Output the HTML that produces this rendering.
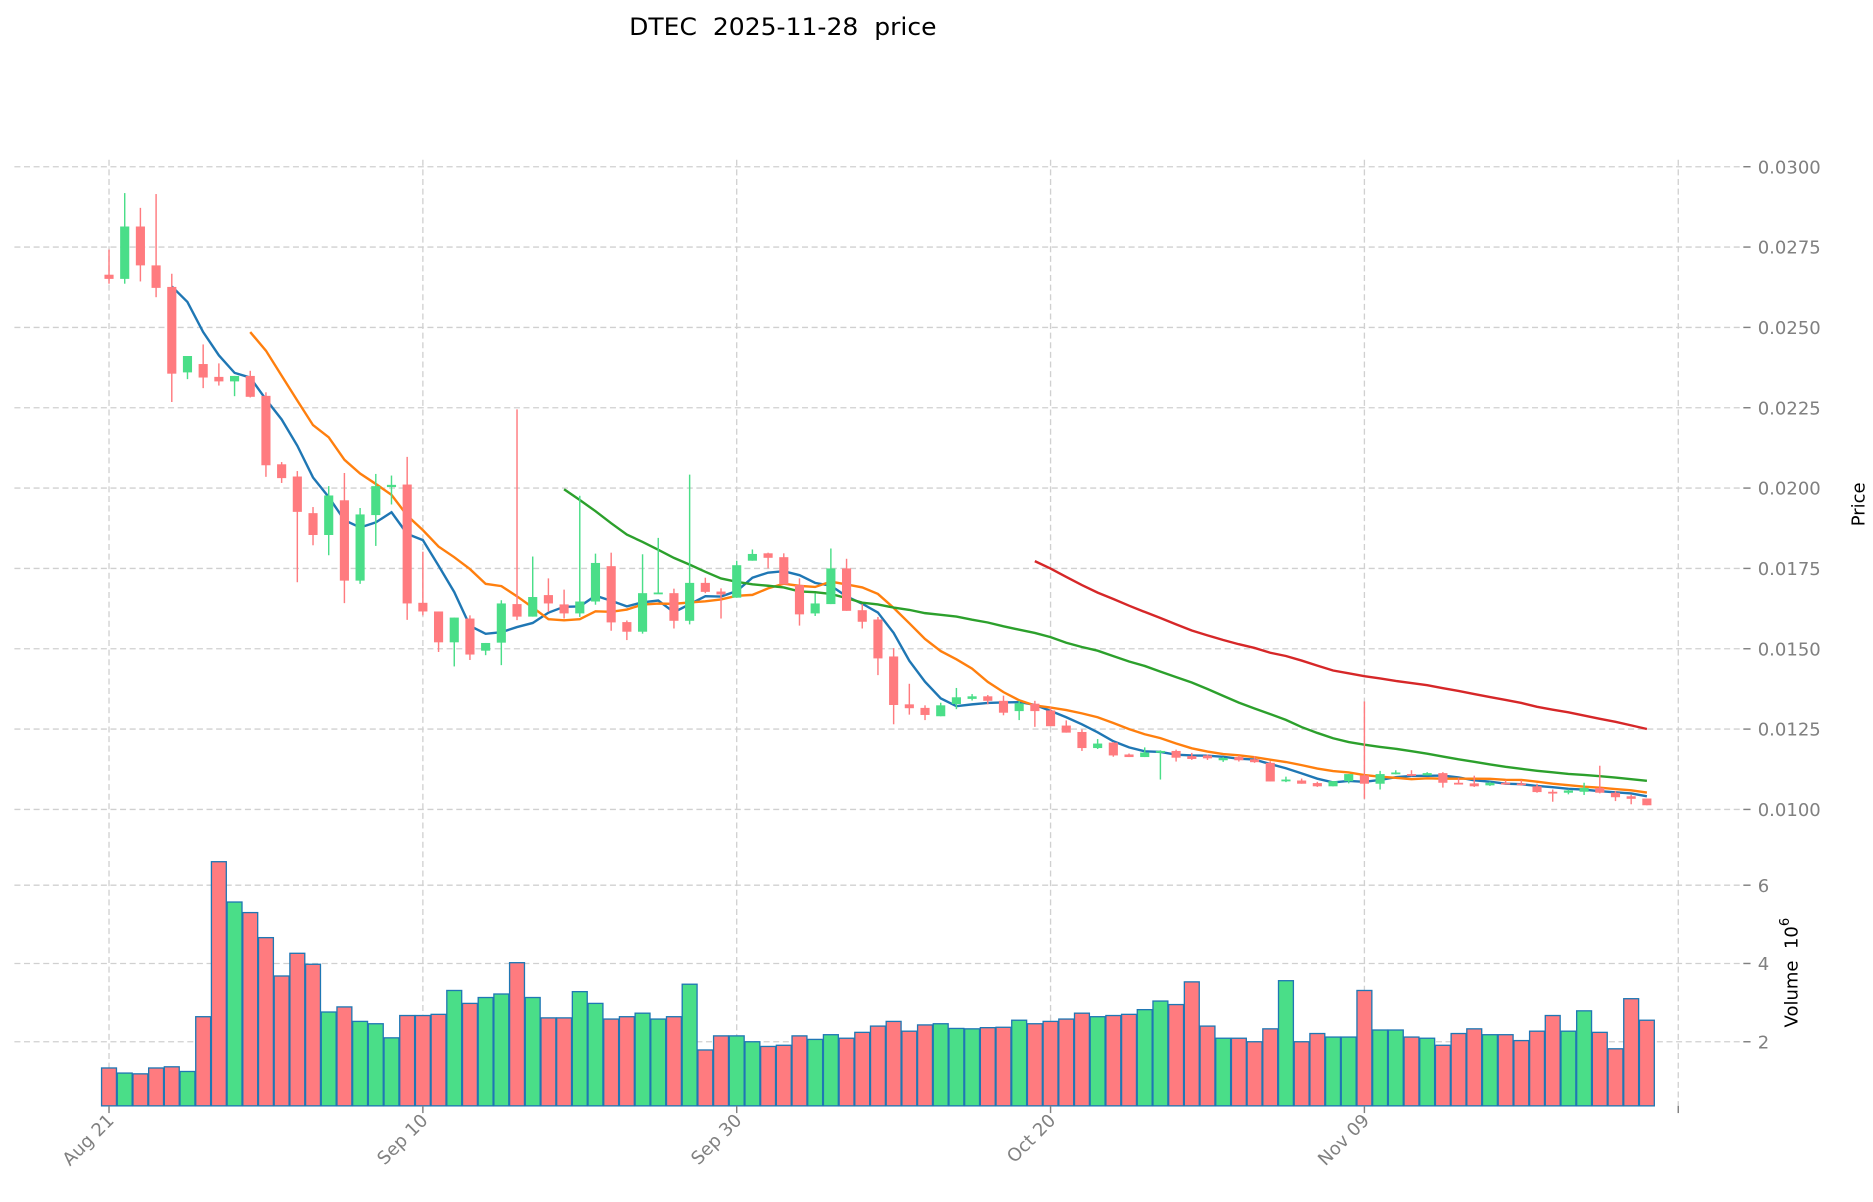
<!DOCTYPE html>
<html><head><meta charset="utf-8"><style>
html,body{margin:0;padding:0;background:#fff;}
svg{display:block;font-family:"DejaVu Sans","Liberation Sans",sans-serif;}
</style></head><body>
<svg id="chart" width="1873" height="1202" viewBox="0 0 1560 1001" xmlns="http://www.w3.org/2000/svg">
<text x="652" y="29" font-size="20" text-anchor="middle" fill="#000" textLength="256" lengthAdjust="spacingAndGlyphs" style="white-space:pre" xml:space="preserve">DTEC  2025-11-28  price</text>
<g id="grid"></g><g id="vol"></g><g id="ma"></g><g id="candles"></g><g id="axes"></g>
<text transform="translate(1553,420) rotate(-90)" font-size="15" text-anchor="middle" fill="#000">Price</text>
<text transform="translate(1497,810) rotate(-90)" font-size="15" text-anchor="middle" fill="#000" style="white-space:pre" xml:space="preserve">Volume  10<tspan font-size="11" dy="-7">6</tspan></text>
</svg>
<script>
const opens=[0.02664,0.02651,0.02814,0.02693,0.02626,0.0236,0.02386,0.02346,0.02332,0.02349,0.02287,0.02074,0.02036,0.01922,0.01854,0.01962,0.01712,0.01916,0.02003,0.02011,0.01643,0.01616,0.0152,0.01594,0.01494,0.01519,0.01639,0.0160,0.01667,0.01638,0.0161,0.01647,0.01757,0.01583,0.01553,0.01672,0.01673,0.01587,0.01705,0.01678,0.01659,0.01774,0.01797,0.01785,0.01698,0.0161,0.01639,0.0175,0.0162,0.01591,0.01476,0.01327,0.01316,0.0129,0.01328,0.01344,0.01352,0.01338,0.01306,0.01329,0.01308,0.01261,0.01241,0.01191,0.01208,0.01171,0.01163,0.0118,0.01182,0.01166,0.01168,0.01153,0.01163,0.01156,0.01145,0.01091,0.0109,0.01082,0.01072,0.01088,0.01106,0.0108,0.01112,0.0111,0.01106,0.01113,0.01083,0.01081,0.01075,0.01083,0.01081,0.01072,0.01055,0.01052,0.01055,0.01067,0.01052,0.01041,0.01034];
const closes=[0.02651,0.02814,0.02693,0.02623,0.02356,0.02411,0.02344,0.02332,0.02349,0.02284,0.02071,0.02031,0.01926,0.01854,0.01977,0.01712,0.01918,0.02006,0.0201,0.01641,0.01616,0.0152,0.01597,0.01482,0.01518,0.01641,0.0160,0.01661,0.01641,0.0161,0.01647,0.01767,0.01582,0.01553,0.01673,0.01675,0.01587,0.01705,0.01677,0.01669,0.0176,0.01795,0.01783,0.017,0.01607,0.01641,0.0175,0.01618,0.01584,0.0147,0.01325,0.01315,0.01294,0.01324,0.01349,0.01352,0.01338,0.01301,0.0133,0.01306,0.01259,0.01239,0.01191,0.01205,0.01168,0.01163,0.01177,0.01182,0.01161,0.01157,0.01159,0.0116,0.01153,0.01147,0.01087,0.01093,0.0108,0.01072,0.01088,0.0111,0.0108,0.0111,0.01115,0.01106,0.01113,0.01083,0.0108,0.01072,0.01083,0.01081,0.01076,0.01054,0.01052,0.01059,0.01067,0.01052,0.01038,0.01033,0.01013];
const highs=[0.02742,0.02918,0.02872,0.02915,0.02667,0.02411,0.02447,0.02388,0.02349,0.02365,0.02298,0.02081,0.02053,0.01941,0.02006,0.02047,0.01938,0.02044,0.02039,0.02097,0.01802,0.01616,0.01597,0.01604,0.01518,0.01651,0.02245,0.01787,0.01719,0.01684,0.01976,0.01796,0.01799,0.01588,0.01794,0.01845,0.01687,0.02042,0.01721,0.01688,0.01774,0.01809,0.01799,0.01797,0.01719,0.01672,0.01812,0.0178,0.01639,0.01599,0.01502,0.01391,0.01324,0.01332,0.01378,0.01359,0.01356,0.01354,0.01338,0.01338,0.01318,0.01277,0.01249,0.01219,0.0121,0.01174,0.01193,0.01184,0.01186,0.01176,0.01171,0.01163,0.01168,0.01166,0.0115,0.01102,0.01096,0.01086,0.01088,0.0111,0.01336,0.0112,0.01122,0.01122,0.01116,0.01116,0.01098,0.01105,0.01086,0.01091,0.01091,0.0108,0.01062,0.01062,0.01083,0.01136,0.01057,0.01046,0.01034];
const lows=[0.02636,0.02636,0.02643,0.02594,0.02268,0.02339,0.02311,0.02319,0.02286,0.02282,0.02035,0.02016,0.01707,0.01822,0.01791,0.01642,0.01702,0.0182,0.01949,0.0159,0.01604,0.0149,0.01445,0.01465,0.0148,0.01449,0.01589,0.0160,0.01615,0.01594,0.01599,0.01637,0.01556,0.01527,0.01547,0.01672,0.01563,0.01576,0.01673,0.01594,0.01659,0.01774,0.0175,0.017,0.01572,0.01602,0.01639,0.01618,0.01563,0.01418,0.01265,0.01295,0.01278,0.0129,0.01312,0.01339,0.01327,0.01293,0.01278,0.01257,0.01259,0.01239,0.01182,0.01188,0.01164,0.01163,0.01163,0.01093,0.01149,0.01154,0.01154,0.01148,0.01149,0.01145,0.01087,0.01085,0.0108,0.0107,0.01072,0.01081,0.01033,0.01062,0.01109,0.01103,0.01106,0.01068,0.01078,0.0107,0.01073,0.01078,0.01074,0.01052,0.01024,0.01047,0.01045,0.0105,0.01026,0.01016,0.01013];
const volumes=[1.33,1.2,1.18,1.33,1.36,1.24,2.64,6.6,5.57,5.3,4.66,3.68,4.26,3.98,2.76,2.89,2.52,2.46,2.1,2.67,2.67,2.7,3.31,2.98,3.13,3.22,4.02,3.13,2.61,2.61,3.28,2.98,2.58,2.64,2.73,2.58,2.64,3.47,1.79,2.15,2.15,2.0,1.88,1.91,2.15,2.06,2.18,2.09,2.24,2.4,2.52,2.27,2.43,2.46,2.34,2.33,2.36,2.37,2.55,2.46,2.52,2.58,2.73,2.64,2.67,2.7,2.82,3.04,2.95,3.53,2.4,2.09,2.09,2.0,2.33,3.56,2.0,2.21,2.12,2.12,3.31,2.3,2.3,2.12,2.09,1.91,2.21,2.33,2.18,2.18,2.03,2.27,2.67,2.27,2.79,2.24,1.82,3.1,2.55];
const priceTicks=[0.0100,0.0125,0.0150,0.0175,0.0200,0.0225,0.0250,0.0275,0.0300];
const volTicks=[2,4,6];
const dateTicks=[0,20,40,60,80];
const dateLabels=["Aug 21","Sep 10","Sep 30","Oct 20","Nov 09"];
const maPeriods=[5,10,30,60];
const maColors=["#1f77b4","#ff7f0e","#2ca02c","#d62728"];

const NS="http://www.w3.org/2000/svg";
const xs=i=>90.8+13.07*i;
const yp=p=>138.8+(0.03-p)/0.02*535.3;
const yv=v=>932.8-v*32.6;
const VB=921;
function mk(tag,attrs,parent){const e=document.createElementNS(NS,tag);for(const k in attrs)e.setAttribute(k,attrs[k]);parent.appendChild(e);return e;}
const grid=document.getElementById('grid'),vol=document.getElementById('vol'),ma=document.getElementById('ma'),cg=document.getElementById('candles'),ax=document.getElementById('axes');
const gs={stroke:"#d0d0d0","stroke-width":1.1,"stroke-dasharray":"5,3"};
function yTick(y,label,name){
  const l=mk('line',Object.assign({x1:12,x2:1452,y1:y,y2:y},gs),grid);
  
  
  const tk=mk('line',{x1:1452,x2:1458,y1:y,y2:y,stroke:"#808080","stroke-width":1.2},ax);
  
  
  const t=mk('text',{x:1464,y:y+5.5,"font-size":15,fill:"#808080"},ax);
  t.textContent=label;
  
  
}
priceTicks.forEach(p=>yTick(yp(p),p.toFixed(4),'price'));
volTicks.forEach(v=>yTick(yv(v),String(v),'volume'));
dateTicks.concat([100]).forEach((d,k)=>{
  const l=mk('line',Object.assign({x1:xs(d),x2:xs(d),y1:133,y2:VB},gs),grid);
  
  
  const tk=mk('line',{x1:xs(d),x2:xs(d),y1:VB,y2:VB+6,stroke:"#808080","stroke-width":1.2},ax);
  
  
  if(k<dateLabels.length){
    const t=mk('text',{transform:`translate(${xs(d)+5},${VB+13}) rotate(-45)`,"font-size":15,fill:"#808080","text-anchor":"end"},ax);
    t.textContent=dateLabels[k];
    
    
  }
});
const up="#4ade88",dn="#ff7b7f";
closes.forEach((c,i)=>{
  const o=opens[i],col=c>=o?up:dn;
  const b=mk('rect',{x:xs(i)-6.2,y:yv(volumes[i]),width:12.4,height:VB-yv(volumes[i]),fill:col,stroke:"#1f77b4","stroke-width":1.1},vol);
  
  
  const w=mk('line',{x1:xs(i),x2:xs(i),y1:yp(highs[i]),y2:yp(lows[i]),stroke:col,"stroke-width":1.2},cg);
  
  
  const top=yp(Math.max(o,c)),h=Math.max(Math.abs(yp(o)-yp(c)),1.5);
  const r=mk('rect',{x:xs(i)-3.8,y:top,width:7.6,height:h,fill:col},cg);
  
  
});
maPeriods.forEach((n,k)=>{
  const pts=[];
  for(let i=n-1;i<closes.length;i++){let s=0;for(let j=i-n+1;j<=i;j++)s+=closes[j];pts.push(xs(i).toFixed(1)+","+yp(s/n).toFixed(1));}
  const pl=mk('polyline',{points:pts.join(" "),fill:"none",stroke:maColors[k],"stroke-width":2},ma);
  
  
});
</script>
</body></html>
